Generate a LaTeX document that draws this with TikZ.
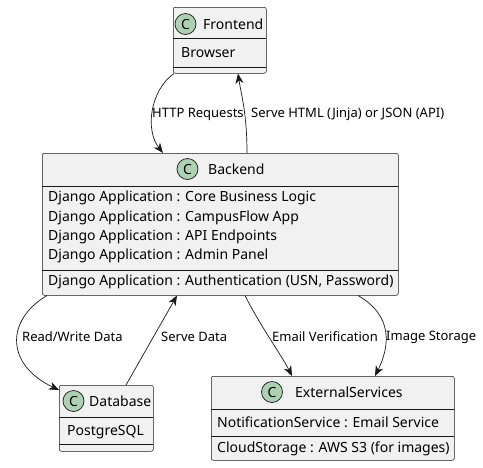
\documentclass[tikz,border=0pt]{standalone}
\usepackage{fontspec}
\setmainfont{Noto Sans}
\usetikzlibrary{positioning,arrows.meta,calc}
\definecolor{boxfill}{HTML}{F1F1F1}
\definecolor{boxline}{HTML}{181818}
\definecolor{iconfill}{HTML}{ADD1B2}

\tikzset{
  classbox/.style={draw=boxline,fill=boxfill,line width=.5pt,rounded corners=2pt,anchor=north west,inner sep=0},
  classicon/.style={circle,draw=boxline,fill=iconfill,line width=.7pt,minimum size=21pt,inner sep=0,font=\bfseries\fontsize{14}{14}\selectfont},
  txt/.style={anchor=west,inner sep=0,font=\fontsize{14}{16}\selectfont},
  lbl/.style={anchor=west,inner sep=0},
  sep/.style={boxline,line width=.5pt},
  link/.style={boxline,line width=.7pt,-{Stealth[length=10pt,width=8pt,inset=3pt]}}
}

\begin{document}
\begin{tikzpicture}[x=1pt,y=-1pt,font=\fontsize{13}{15}\selectfont]
  \useasboundingbox (0,0) rectangle (483,467);
  % Frontend
  \node[classbox,minimum width=93,minimum height=66] (fe) at (173,7) {};
  \node[classicon] (feC) at (185.5,24) {C};
  \node[txt] (feT) at (203,24) {Frontend};
  \draw[sep] (173,38) -- (266,38);
  \node[txt] (feA) at (181,53) {Browser};
  \draw[sep] (173,67) -- (266,67);
  % Backend
  \node[classbox,minimum width=356,minimum height=142] (be) at (42,153) {};
  \node[classicon] (beC) at (187.5,169) {C};
  \node[txt] (beT) at (208,169) {Backend};
  \draw[sep] (42,186) -- (398,186);
  \node[txt] (beA1) at (48,198) {Django Application : Core Business Logic};
  \node[txt] (beA2) at (48,217.5) {Django Application : CampusFlow App};
  \node[txt] (beA3) at (48,236.5) {Django Application : API Endpoints};
  \node[txt] (beA4) at (48,255.5) {Django Application : Admin Panel};
  \draw[sep] (42,270) -- (398,270);
  \node[txt] (beM) at (48,282) {Django Application : Authentication (USN, Password)};
  % Database
  \node[classbox,minimum width=94,minimum height=66] (db) at (59,385) {};
  \node[classicon] (dbC) at (73.5,401) {C};
  \node[txt] (dbT) at (89,401) {Database};
  \draw[sep] (59,417) -- (153,417);
  \node[txt] (dbA) at (67,432) {PostgreSQL};
  \draw[sep] (59,444) -- (153,444);
  % ExternalServices
  \node[classbox,minimum width=243,minimum height=84] (ex) at (211,376) {};
  \node[classicon] (exC) at (272,392) {C};
  \node[txt] (exT) at (295,392) {ExternalServices};
  \draw[sep] (211,409) -- (454,409);
  \node[txt] (exA) at (217,422) {NotificationService : Email Service};
  \draw[sep] (211,436) -- (454,436);
  \node[txt] (exM) at (217,449) {CloudStorage : AWS S3 (for images)};
  % links
  \draw[link] ($(fe.south west)+(1,0)$) .. controls +(-24,17) and +(-18,-23) .. ($(be.north west)+(121,0)$);
  \node[lbl] (l1) at (152,114) {HTTP Requests};
  \draw[link] ($(be.north west)+(205,0)$) .. controls +(0,-40) and +(3,20) .. ($(fe.south west)+(65,0)$);
  \node[lbl] (l2) at (251,114) {Serve HTML (Jinja) or JSON (API)};
  \draw[link] ($(be.south west)+(5,0)$) .. controls +(-42,25) and +(-53,-25) .. ($(db.north west)+(0,5)$);
  \node[lbl] (l3) at (22,337) {Read/Write Data};
  \draw[link] ($(db.north west)+(67,0)$) -- ($(be.south west)+(135,0)$);
  \node[lbl] (l4) at (161,337) {Serve Data};
  \draw[link] ($(be.south west)+(203,0)$) .. controls +(15,30) and +(-10,-20) .. ($(ex.north west)+(81,0)$);
  \node[lbl] (l5) at (272,337) {Email Verification};
  \draw[link] ($(be.south west)+(316,0)$) .. controls +(35,20) and +(15,-30) .. ($(ex.north west)+(164,0)$);
  \node[lbl] (l6) at (386,337) {Image Storage};
\end{tikzpicture}
\end{document}
